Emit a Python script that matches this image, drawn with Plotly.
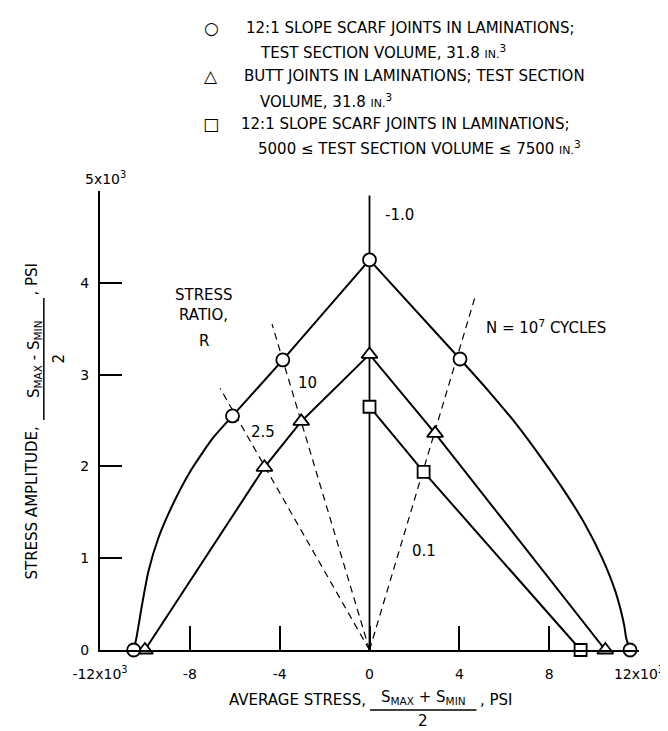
import plotly.graph_objects as go

# ---------------- data (psi) ----------------
circle_x = [-10500, -6100, -3860, 0, 4030, 11600]
circle_y = [0, 2550, 3160, 4250, 3170, 0]
triangle_x = [-10000, -4680, -3040, 0, 2920, 10500]
triangle_y = [0, 1990, 2490, 3220, 2360, 0]
square_x = [0, 2410, 9400]
square_y = [2650, 1940, 0]

# faired N = 10^7 curve through the circle data
curve_left_x = [-10500, -10380, -10130, -9840, -9400, -8770, -7970, -6970, -6100, -3860, 0]
curve_left_y = [0, 130, 490, 860, 1220, 1580, 1950, 2310, 2550, 3160, 4250]
curve_right_x = [0, 4030, 5340, 6570, 7690, 8710, 9620, 10380, 10960, 11340, 11430, 11600]
curve_right_y = [4250, 3170, 2810, 2450, 2080, 1720, 1360, 990, 630, 270, 130, 0]

# stress-ratio rays from the origin
stress_ratio = [2.5, 10, 0.1]
ratio_labels = ["2.5", "10", "0.1"]
ratio_top_y = [2850, 3550, 3850]
ratio_label_x = [-4740, -2760, 2440]
ratio_label_y = [2370, 2910, 1080]
r_minus1_top = 4950

x_tickvals = [-12000, -8000, -4000, 0, 4000, 8000, 12000]
x_ticktext = ["-12x10<sup>3</sup>", "-8", "-4", "0", "4", "8", "12x10<sup>3</sup>"]
y_tickvals = [0, 1000, 2000, 3000, 4000, 5000]
y_ticktext = ["0", "1", "2", "3", "4", ""]

FONT = "DejaVu Sans"
W, H = 668, 731
L, R, T, B = 92, 29, 183, 89
PW, PH = W - L - R, H - T - B


def P(xpx, ypx):
    return (xpx - L) / PW, (H - B - ypx) / PH


fig = go.Figure()

# stress ratio dashed rays
for r, ytop in zip(stress_ratio, ratio_top_y):
    slope = (1 - r) / (1 + r)
    fig.add_trace(go.Scatter(x=[0, ytop / slope], y=[0, ytop], mode="lines",
                             line=dict(color="black", width=1.2, dash="7px,5px"),
                             showlegend=False, hoverinfo="skip"))

# R = -1 vertical line
fig.add_trace(go.Scatter(x=[0, 0], y=[0, r_minus1_top], mode="lines",
                         line=dict(color="black", width=1.8),
                         showlegend=False, hoverinfo="skip"))

# faired curve for circles
for cx, cy in [(curve_left_x, curve_left_y), (curve_right_x, curve_right_y)]:
    fig.add_trace(go.Scatter(x=cx, y=cy, mode="lines",
                             line=dict(color="black", width=2, shape="spline", smoothing=0.6),
                             cliponaxis=False, showlegend=False, hoverinfo="skip"))

# triangles and squares (straight fairings)
fig.add_trace(go.Scatter(x=triangle_x, y=triangle_y, mode="lines+markers",
                         line=dict(color="black", width=2),
                         marker=dict(symbol="triangle-up", size=14, color="white",
                                     line=dict(color="black", width=1.8)),
                         cliponaxis=False, name="Butt joints, 31.8 in.3"))
fig.add_trace(go.Scatter(x=square_x, y=square_y, mode="lines+markers",
                         line=dict(color="black", width=2),
                         marker=dict(symbol="square", size=12, color="white",
                                     line=dict(color="black", width=1.8)),
                         cliponaxis=False, name="12:1 scarf, 5000-7500 in.3"))
fig.add_trace(go.Scatter(x=circle_x, y=circle_y, mode="markers",
                         marker=dict(symbol="circle", size=13, color="white",
                                     line=dict(color="black", width=1.8)),
                         cliponaxis=False, name="12:1 scarf, 31.8 in.3"))

ann = []


def text(xpx, ypx, s, size=15, xanchor="left", yanchor="middle", angle=0):
    x, y = P(xpx, ypx)
    ann.append(dict(x=x, y=y, xref="paper", yref="paper", text=s, showarrow=False,
                    xanchor=xanchor, yanchor=yanchor, textangle=angle,
                    font=dict(family=FONT, size=size, color="black")))


small_in = "<span style='font-size:11px'>IN.</span><sup>3</sup>"
# legend block
text(205, 20, "○", size=17, xanchor="center")
text(238, 20, "12:1 SLOPE SCARF JOINTS IN LAMINATIONS;")
text(252, 44, "TEST SECTION VOLUME, 31.8 " + small_in)
text(205, 68, "△", size=17, xanchor="center")
text(236, 68, "BUTT JOINTS IN LAMINATIONS; TEST SECTION")
text(252, 93, "VOLUME, 31.8 " + small_in)
text(205, 116, "□", size=17, xanchor="center")
text(233, 116, "12:1 SLOPE SCARF JOINTS IN LAMINATIONS;")
text(250, 140, "5000 ≤ TEST SECTION VOLUME ≤ 7500 " + small_in)


# in-plot labels (data coordinates)
def dtext(x, y, s, xanchor="center"):
    ann.append(dict(x=x, y=y, xref="x", yref="y", text=s, showarrow=False,
                    xanchor=xanchor, yanchor="middle",
                    font=dict(family=FONT, size=15, color="black")))


dtext(-7370, 3870, "STRESS")
dtext(-7370, 3650, "RATIO,")
dtext(-7370, 3370, "R")
for lx, ly, lab in zip(ratio_label_x, ratio_label_y, ratio_labels):
    dtext(lx, ly, lab)
dtext(600, 4740, "-1.0", xanchor="left")
dtext(5100, 3520, "N = 10<sup>7</sup> CYCLES", xanchor="left")

# axis top label
text(75, 170, "5x10<sup>3</sup>", size=14)

# x-axis title with fraction
text(364, 692, "AVERAGE STRESS,", xanchor="right")
text(420, 689, "S<sub>MAX</sub> + S<sub>MIN</sub>", xanchor="center")
text(476, 692, ", PSI", xanchor="left")
text(420, 713, "2", xanchor="center")

# y-axis title with fraction
text(22, 417, "STRESS AMPLITUDE,", angle=-90, xanchor="center", yanchor="top")
text(25, 351, "S<sub>MAX</sub> - S<sub>MIN</sub>", angle=-90, xanchor="center", yanchor="middle")
text(22, 290, ", PSI", angle=-90, xanchor="center", yanchor="bottom")
text(50, 351, "2", angle=-90, xanchor="center")

shapes = []
x0, y0 = P(366, 702)
x1, _ = P(474, 702)
shapes.append(dict(type="line", xref="paper", yref="paper", x0=x0, x1=x1, y0=y0, y1=y0,
                   line=dict(color="black", width=1.5)))
xa, ya = P(35, 290)
_, yb = P(35, 412)
shapes.append(dict(type="line", xref="paper", yref="paper", x0=xa, x1=xa, y0=ya, y1=yb,
                   line=dict(color="black", width=1.5)))

fig.update_layout(
    width=W, height=H,
    margin=dict(l=L, r=R, t=T, b=B, pad=0),
    paper_bgcolor="white", plot_bgcolor="white",
    showlegend=False,
    font=dict(family=FONT, size=14, color="black"),
    annotations=ann, shapes=shapes,
    xaxis=dict(range=[-12000, 12000], tickvals=x_tickvals, ticktext=x_ticktext,
               ticks="inside", ticklen=24, tickwidth=1.5, tickcolor="black",
               showline=True, linewidth=2, linecolor="black", showgrid=False,
               zeroline=False, ticklabelstandoff=10, tickfont=dict(size=14)),
    yaxis=dict(range=[0, 5000], tickvals=y_tickvals, ticktext=y_ticktext,
               ticks="inside", ticklen=22, tickwidth=1.5, tickcolor="black",
               showline=True, linewidth=2, linecolor="black", showgrid=False,
               zeroline=False, ticklabelstandoff=6, tickfont=dict(size=14)),
)

fig.write_html("out.html")
